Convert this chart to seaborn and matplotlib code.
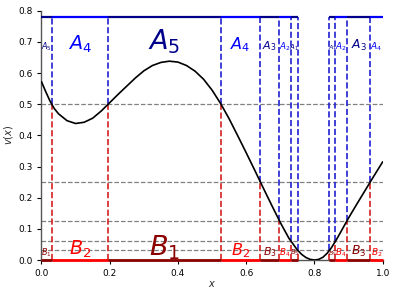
import numpy as np
import pandas as pd
import matplotlib
matplotlib.use("Agg")
import matplotlib.pyplot as plt
import seaborn as sns

# curve v(x)
curve_x = [0.000, 0.0125, 0.025, 0.0375, 0.050, 0.075, 0.100, 0.125, 0.150, 0.175, 0.200,
           0.225, 0.250, 0.275, 0.300, 0.325, 0.350, 0.375, 0.400, 0.425, 0.450,
           0.475, 0.500, 0.525, 0.550, 0.575, 0.600, 0.625, 0.650, 0.675, 0.700,
           0.725, 0.750, 0.7625, 0.775, 0.7875, 0.800, 0.8125, 0.825, 0.8375, 0.850,
           0.8625, 0.875, 0.900, 0.925, 0.950, 0.975, 1.000]
curve_v = [0.572, 0.540, 0.510, 0.486, 0.469, 0.447, 0.438, 0.442, 0.455, 0.478, 0.505,
           0.532, 0.558, 0.584, 0.607, 0.624, 0.634, 0.638, 0.635, 0.624, 0.606,
           0.580, 0.545, 0.502, 0.453, 0.399, 0.344, 0.288, 0.231, 0.175, 0.120,
           0.070, 0.032, 0.018, 0.008, 0.002, 0.000, 0.002, 0.009, 0.022, 0.040,
           0.062, 0.086, 0.135, 0.181, 0.226, 0.271, 0.315]

# level lines
levels = [0.5, 0.25, 0.125, 0.0625, 0.03125]
# crossing points of curve with levels
cross_x = [0.030, 0.194, 0.525, 0.641, 0.696, 0.730, 0.752, 0.843, 0.861, 0.895, 0.964]
cross_v = [0.5, 0.5, 0.5, 0.25, 0.125, 0.0625, 0.03125, 0.03125, 0.0625, 0.125, 0.25]
top_level = 0.78

# intervals between boundaries and their set indices
seg_start = [0.000, 0.030, 0.194, 0.525, 0.641, 0.696, 0.730, 0.843, 0.861, 0.895, 0.964]
seg_end   = [0.030, 0.194, 0.525, 0.641, 0.696, 0.730, 0.752, 0.861, 0.895, 0.964, 1.000]
a_index   = [5, 4, 5, 4, 3, 2, 1, 1, 2, 3, 4]
b_index   = [1, 2, 1, 2, 3, 4, 5, 5, 4, 3, 2]

sns.set_style("ticks")
plt.rcParams['font.family'] = ['DejaVu Sans']

fig = plt.figure(figsize=(3.97, 2.96), dpi=100)
ax = fig.add_axes([0.1045, 0.1216, 0.8595, 0.8423])

for lv in levels:
    ax.axhline(lv, color='gray', ls='--', lw=0.9, zorder=1)

ax.vlines(cross_x, 0, cross_v, colors='#d42020', linestyles='--', lw=1.2, zorder=2)
ax.vlines(cross_x, cross_v, top_level, colors='#2020d0', linestyles='--', lw=1.2, zorder=2)

df = pd.DataFrame({'x': curve_x, 'v': curve_v})
sns.lineplot(data=df, x='x', y='v', color='black', lw=1.2, ax=ax, zorder=4)

for s, e, ka, kb in zip(seg_start, seg_end, a_index, b_index):
    ca = 'darkblue' if ka % 2 == 1 else 'blue'
    cb = 'darkred' if kb % 2 == 1 else 'red'
    ax.plot([s, e], [top_level, top_level], color=ca, lw=1.6, zorder=3, solid_capstyle='butt')
    ax.plot([s, e], [0.0, 0.0], color=cb, lw=2.0, zorder=3, solid_capstyle='butt', clip_on=False)
    fs = 34 * np.sqrt(e - s)
    xm = 0.5 * (s + e)
    ax.text(xm, 0.676, f'$A_{ka}$', color=ca, fontsize=fs, ha='center', va='baseline')
    ax.text(xm, 0.016, f'$B_{kb}$', color=cb, fontsize=fs, ha='center', va='baseline')

ax.set_xlim(0, 1)
ax.set_ylim(0, 0.8)
ax.set_xticks([0.0, 0.2, 0.4, 0.6, 0.8, 1.0])
ax.set_yticks([0.0, 0.1, 0.2, 0.3, 0.4, 0.5, 0.6, 0.7, 0.8])
ax.tick_params(labelsize=6.5, length=3, width=0.8, colors='black')
for sp in ['left', 'bottom']:
    ax.spines[sp].set_color('#555555')
    ax.spines[sp].set_linewidth(1.0)
sns.despine(ax=ax)
ax.set_xlabel('$x$', fontsize=7, labelpad=1)
ax.set_ylabel('$v(x)$', fontsize=7, labelpad=2)

fig.savefig('out.png', dpi=100)
